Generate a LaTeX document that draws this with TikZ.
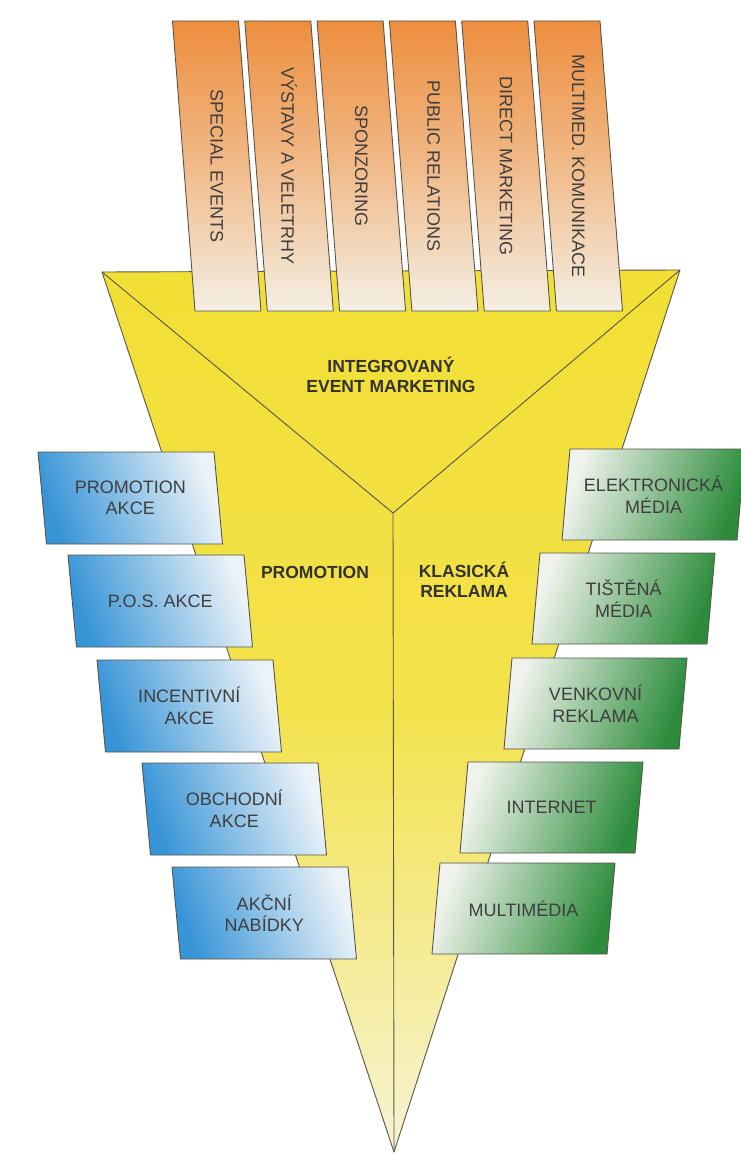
\documentclass[tikz,border=0pt]{standalone}
\usepackage{fontspec}
\setmainfont{Liberation Sans}
\usetikzlibrary{calc}
\definecolor{funnelY}{RGB}{242,223,52}
\definecolor{funnelP}{RGB}{247,243,212}
\definecolor{barO}{RGB}{237,142,62}
\definecolor{barC}{RGB}{244,239,228}
\definecolor{boxB}{RGB}{55,148,215}
\definecolor{boxBl}{RGB}{236,243,248}
\definecolor{boxG}{RGB}{45,140,60}
\definecolor{boxGl}{RGB}{240,243,236}
\definecolor{edge}{RGB}{85,85,75}
\definecolor{txt}{RGB}{62,62,62}
\tikzset{
  outline/.style={draw=edge, line width=0.9pt, line join=round},
  bartext/.style={rotate=-90, text=txt, font=\fontsize{18}{20}\selectfont, inner sep=0pt},
  boxtext/.style={text=txt, align=center, font=\fontsize{18}{21.5}\selectfont, inner sep=0pt},
  headtext/.style={text=txt!80!black, align=center, font=\bfseries\fontsize{17.5}{20}\selectfont, inner sep=0pt},
  funnelfill/.style={top color=funnelY, bottom color=funnelP, middle color=funnelY!85!funnelP},
  barfill/.style={top color=barO, bottom color=barC, middle color=barO!55!barC},
  bluefill/.style={top color=boxBl, bottom color=boxB, shading angle=-70},
  greenfill/.style={top color=boxGl, bottom color=boxG, shading angle=70},
}
\begin{document}
\begin{tikzpicture}[x=1pt,y=-1pt]
\useasboundingbox (0,0) rectangle (740,1155);
\fill[white] (0,0) rectangle (740,1155);
% funnel
\coordinate (TL) at (102,272);
\coordinate (TR) at (680,270);
\coordinate (AP) at (394,1152);
\coordinate (J) at (393,513);
\path[funnelfill] (TL) -- (TR) -- (AP) -- cycle;
\draw[outline] (TL) -- (TR) -- (AP) -- cycle;
\draw[outline] (TL) -- (J) -- (TR) (J) -- (AP);
% top bars
\foreach \i/\t in {0/SPECIAL EVENTS,1/VÝSTAVY A VELETRHY,2/SPONZORING,3/PUBLIC RELATIONS,4/DIRECT MARKETING,5/MULTIMED. KOMUNIKACE}{
  \pgfmathsetmacro\xl{172.5+72.3*\i}
  \path[barfill, outline] (\xl,21) coordinate (bar\i) -- ++(66,0) -- ++(22.5,290) -- ++(-66,0) -- cycle;
  \node[bartext] (bt\i) at (\xl+44.25,166) {\t};
}
% headings
\node[headtext] (ihead) at (391,375) {INTEGROVANÝ\\EVENT MARKETING};
\node[headtext] (promo) at (315,572) {PROMOTION};
\node[headtext] (klas) at (464,580) {KLASICKÁ\\REKLAMA};
% left blue boxes
\foreach \i/\x/\y/\t in {1/38/452/{PROMOTION\\AKCE},2/68/555/{P.O.S. AKCE},3/97/660/{INCENTIVNÍ\\AKCE},4/142/763/{OBCHODNÍ\\AKCE},5/172/867/{AKČNÍ\\NABÍDKY}}{
  \path[bluefill, outline] (\x,\y) coordinate (L\i) -- ++(176,0) -- ++(8.5,92) -- ++(-176,0) -- cycle;
  \node[boxtext] (lt\i) at (\x+92.25,\y+46) {\t};
}
% right green boxes
\foreach \i/\x/\y/\t in {1/570/449/{ELEKTRONICKÁ\\MÉDIA},2/540/553/{TIŠTĚNÁ\\MÉDIA},3/512/658/{VENKOVNÍ\\REKLAMA},4/468/762/{INTERNET},5/440/863/{MULTIMÉDIA}}{
  \path[greenfill, outline] (\x,\y) coordinate (R\i) -- ++(175,0) -- ++(-8,91) -- ++(-175,0) -- cycle;
  \node[boxtext] (rt\i) at (\x+83.5,\y+45.5) {\t};
}
\end{tikzpicture}
\end{document}
